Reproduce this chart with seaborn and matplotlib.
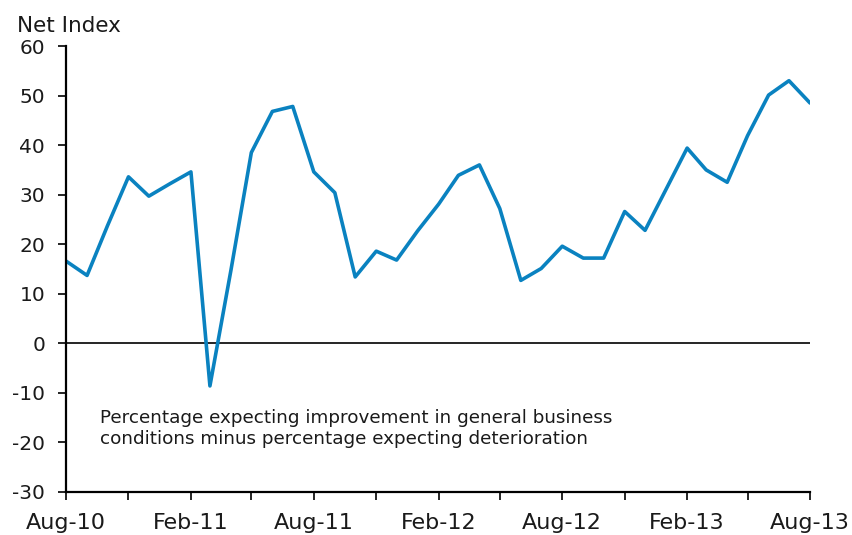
import pandas as pd
import matplotlib
matplotlib.use('Agg')
import matplotlib.pyplot as plt
import matplotlib.dates as mdates
import seaborn as sns

# dados mensais, Aug-10 a Aug-13
meses = pd.date_range('2010-08-01', '2013-08-01', freq='MS')
net_index = [16.6, 13.7, 23.7, 33.6, 29.7, 32.2, 34.6, -8.6, 14.8, 38.5,
             46.8, 47.8, 34.6, 30.4, 13.4, 18.6, 16.8, 22.7, 28.1, 33.9,
             36.0, 27.2, 12.7, 15.1, 19.6, 17.2, 17.2, 26.6, 22.8, 31.1,
             39.4, 35.0, 32.5, 41.9, 50.1, 53.0, 48.5]
y_ticks = [-30, -20, -10, 0, 10, 20, 30, 40, 50, 60]
nota = ('Percentage expecting improvement in general business\n'
        'conditions minus percentage expecting deterioration')

df = pd.DataFrame({'mes': meses, 'net_index': net_index})

sns.set_style('ticks')
plt.rcParams['font.family'] = ['DejaVu Sans']
plt.rcParams['axes.unicode_minus'] = False

fig = plt.figure(figsize=(8.53, 5.35), dpi=100)
ax = fig.add_axes([0.0774, 0.0804, 0.8722, 0.8336])

sns.lineplot(data=df, x='mes', y='net_index', ax=ax,
             color='#0a82c0', linewidth=2.6)
ax.axhline(0, color='black', linewidth=1.2, zorder=1)

ax.set_xlim(meses[0], meses[-1])
ax.set_ylim(-30, 60)
ax.set_yticks(y_ticks)
ax.xaxis.set_major_locator(mdates.MonthLocator(bymonth=[2, 8]))
ax.xaxis.set_major_formatter(mdates.DateFormatter('%b-%y'))
ax.xaxis.set_minor_locator(mdates.MonthLocator(bymonth=[5, 11]))

ax.tick_params(axis='y', labelsize=14.5, length=6, width=1.2, pad=9,
               direction='out', colors='black', labelcolor='#1a1a1a')
ax.tick_params(axis='x', which='both', length=6, width=1.2, direction='out',
               colors='black')
ax.tick_params(axis='x', which='major', labelsize=16, pad=9,
               labelcolor='#1a1a1a')

for s in ['top', 'right']:
    ax.spines[s].set_visible(False)
for s in ['left', 'bottom']:
    ax.spines[s].set_linewidth(1.6)
    ax.spines[s].set_color('black')

ax.set_xlabel('')
ax.set_ylabel('')
ax.text(0.046, 0.186, nota, transform=ax.transAxes, fontsize=13.2,
        va='top', ha='left', linespacing=1.2, color='#1a1a1a')
fig.text(0.02, 0.94, 'Net Index', fontsize=15.5, ha='left', va='baseline',
         color='#1a1a1a')

fig.savefig('out.png', dpi=100)
